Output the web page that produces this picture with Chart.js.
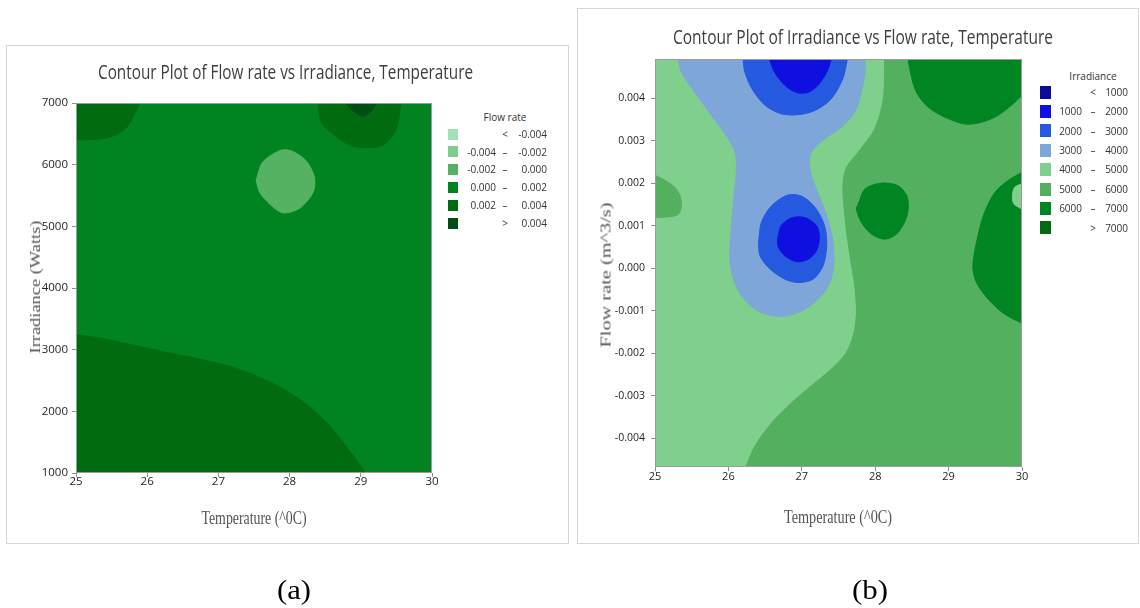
<!DOCTYPE html>
<html><head><meta charset="utf-8">
<title>Contour plots</title>
<script src="https://cdn.jsdelivr.net/npm/chart.js@4.4.1/dist/chart.umd.min.js"></script>
<style>
html,body{margin:0;padding:0;background:#fff}
body{position:relative;width:1140px;height:608px;overflow:hidden}
.box{position:absolute;border:1px solid #d6d6d6;box-sizing:border-box}
canvas{position:absolute;display:block}
.sw{position:absolute}
.lt{position:absolute;white-space:nowrap;line-height:1;font-family:'Open Sans',sans-serif;font-size:10px;color:#333}
</style></head>
<body>
<div class="box" style="left:6px;top:45px;width:563px;height:499px"></div>
<div class="box" style="left:577px;top:8px;width:562px;height:536px"></div>
<canvas id="chartA" width="445" height="496" style="left:0px;top:46px;width:445px;height:496px"></canvas>
<canvas id="chartB" width="460" height="534" style="left:577px;top:9px;width:460px;height:534px"></canvas>
<script>
// ---------------- shared axis ----------------
const tempRange = [25, 30];
const tempTicks = [25, 26, 27, 28, 29, 30];
const tempTickLabels = ['25', '26', '27', '28', '29', '30'];

// ---------------- (a) Flow rate vs Irradiance, Temperature ----------------
const aIrrRange = [1000, 7000];
const aIrrTicks = [1000, 2000, 3000, 4000, 5000, 6000, 7000];
const aIrrTickLabels = ['1000', '2000', '3000', '4000', '5000', '6000', '7000'];
const flowLevels = [-0.004, -0.002, 0.000, 0.002, 0.004];
const flowColors = ['#a4e0b6', '#7ecd8d', '#55b263', '#008422', '#006b0f', '#004e14'];

// contour band boundaries, [temperature, irradiance]
const aBase = [[24.9, 900], [30.1, 900], [30.1, 7100], [24.9, 7100]];                       // 0.000 – 0.002
const aBottom = [[29.12, 900], [24.9, 900], [24.9, 3243], [25, 3243], [25.33, 3189], [25.80, 3076], [26.27, 2957],
  [26.73, 2849], [27.20, 2714], [27.58, 2551], [27.91, 2362], [28.23, 2119], [28.56, 1768], [28.84, 1362], [29.07, 1000]]; // 0.002 – 0.004
const aTopLeft = [[25.93, 7100], [24.9, 7100], [24.9, 6400], [25, 6400], [25.33, 6416], [25.56, 6481], [25.73, 6632], [25.89, 6984]]; // 0.002 – 0.004
const aTopRight = [[29.57, 7100], [28.39, 7100], [28.40, 7000], [28.445, 6686], [28.61, 6497], [28.89, 6297], [29.26, 6292],
  [29.43, 6443], [29.52, 6659], [29.56, 7000]];                                               // 0.002 – 0.004
const aTopCore = [[29.24, 7100], [28.78, 7100], [28.79, 7000], [28.89, 6876], [29.03, 6784], [29.13, 6849], [29.23, 7000]]; // > 0.004
const aBlob = [[27.53, 5741], [27.62, 6038], [27.86, 6227], [28.02, 6227], [28.23, 6065], [28.35, 5795], [28.33, 5551],
  [28.16, 5308], [28.00, 5227], [27.88, 5227], [27.72, 5362], [27.58, 5551], [27.53, 5741]];  // -0.002 – 0.000
// [boundary, colour band, tension]
const aLayers = [[aBase, 3, 0], [aBottom, 4], [aTopLeft, 4], [aTopRight, 4], [aTopCore, 5], [aBlob, 2]];

// ---------------- (b) Irradiance vs Flow rate, Temperature ----------------
const bFlowRange = [-0.00468, 0.00492];
const bFlowTicks = [-0.004, -0.003, -0.002, -0.001, 0.000, 0.001, 0.002, 0.003, 0.004];
const bFlowTickLabels = ['-0.004', '-0.003', '-0.002', '-0.001', '0.000', '0.001', '0.002', '0.003', '0.004'];
const irrLevels = [1000, 2000, 3000, 4000, 5000, 6000, 7000];
const irrColors = ['#0b0b96', '#0f10e0', '#2459e0', '#7ea6d9', '#7fcf8d', '#53b05f', '#008523', '#006b0f'];

// contour band boundaries, [temperature, flow rate]
const bBase = [[24.9, -0.0049], [30.1, -0.0049], [30.1, 0.0051], [24.9, 0.0051]];          // 4000 – 5000
const bRight = [[30.1, 0.0051], [28.13, 0.0051], [28.13, 0.00491], [28.11, 0.00398], [27.995, 0.00328], [27.77, 0.00273],
  [27.61, 0.00237], [27.56, 0.00194], [27.59, 0.001155], [27.65, 0.00037], [27.72, -0.00042], [27.745, -0.001045],
  [27.70, -0.001595], [27.59, -0.00203], [27.40, -0.00238], [27.13, -0.00277], [26.86, -0.00317], [26.59, -0.00364],
  [26.36, -0.00419], [26.23, -0.0047], [26.16, -0.0049], [30.1, -0.0049]];                   // 5000 – 6000
const bLeftEdge = [[24.9, 0.00119], [24.9, 0.00218], [25, 0.00218], [25.14, 0.00206], [25.27, 0.0019], [25.34, 0.0017],
  [25.36, 0.00147], [25.32, 0.00127], [25.2, 0.00121], [25, 0.00119]];                        // 5000 – 6000
const bTopRight = [[30.1, 0.0051], [28.45, 0.0051], [28.45, 0.00491], [28.49, 0.00453], [28.56, 0.00414], [28.72, 0.00379],
  [28.95, 0.00355], [29.22, 0.00339], [29.45, 0.00343], [29.67, 0.00359], [29.855, 0.00383], [30, 0.00406], [30.1, 0.0042]]; // 6000 – 7000
const bMidBlob = [[27.77, 0.00151], [27.86, 0.00186], [28.085, 0.002], [28.31, 0.00194], [28.43, 0.001705], [28.45, 0.00139],
  [28.40, 0.00108], [28.29, 0.0008], [28.13, 0.00068], [27.95, 0.0008], [27.81, 0.00108], [27.745, 0.00139], [27.77, 0.00151]]; // 6000 – 7000
const bRightBlob = [[30.1, -0.0014], [30.1, 0.00235], [30, 0.002255], [29.81, 0.00206], [29.63, 0.00178], [29.49, 0.00131],
  [29.40, 0.00076], [29.33, 0.000055], [29.38, -0.00034], [29.54, -0.00073], [29.76, -0.00108], [30, -0.0013]]; // 6000 – 7000
const bNotch = [[30.1, 0.00138], [30.1, 0.00199], [30, 0.00198], [29.90, 0.0019], [29.87, 0.001705], [29.89, 0.00151], [30, 0.00139]]; // 4000 – 5000
const bHourglass = [[27.86, 0.0051], [25.32, 0.0051], [25.32, 0.00491], [25.36, 0.00461], [25.54, 0.00414], [25.77, 0.00359],
  [26.00, 0.00304], [26.09, 0.00273], [26.11, 0.00233], [26.07, 0.00155], [26.03, 0.00076], [26.02, 0.00021], [26.07, -0.00026],
  [26.18, -0.00065], [26.36, -0.00097], [26.59, -0.00112], [26.81, -0.00112], [27.04, -0.00097], [27.22, -0.00073],
  [27.36, -0.00042], [27.43, -0.00002], [27.43, 0.00053], [27.38, 0.001], [27.29, 0.00147], [27.18, 0.00194], [27.11, 0.00233],
  [27.11, 0.00265], [27.18, 0.00284], [27.31, 0.00304], [27.54, 0.00332], [27.72, 0.00367], [27.81, 0.00414], [27.86, 0.00461],
  [27.86, 0.00491]];                                                                          // 3000 – 4000
const bBlueTop = [[27.62, 0.0051], [26.20, 0.0051], [26.20, 0.00491], [26.225, 0.00461], [26.32, 0.00422], [26.50, 0.00383],
  [26.72, 0.00363], [26.95, 0.00361], [27.18, 0.00371], [27.40, 0.00398], [27.56, 0.00446], [27.62, 0.00491]]; // 2000 – 3000
const bBlueLow = [[26.41, 0.000605], [26.45, 0.00108], [26.59, 0.00147], [26.81, 0.00172], [27.00, 0.00169], [27.18, 0.00143],
  [27.31, 0.001], [27.34, 0.00053], [27.29, 0.000055], [27.155, -0.00026], [26.95, -0.00034], [26.77, -0.00026],
  [26.565, -0.00002], [26.43, 0.00029], [26.41, 0.000605]];                                  // 2000 – 3000
const bNavyTop = [[27.40, 0.0051], [26.565, 0.0051], [26.565, 0.00491], [26.63, 0.00461], [26.77, 0.0043], [26.93, 0.00413],
  [27.09, 0.00414], [27.22, 0.0043], [27.34, 0.00461], [27.40, 0.00491]];                     // 1000 – 2000
const bNavyLow = [[26.67, 0.00068], [26.72, 0.001], [26.86, 0.00118], [27.04, 0.00119], [27.20, 0.001], [27.24, 0.00072],
  [27.20, 0.00041], [27.09, 0.00021], [26.93, 0.00015], [26.77, 0.00029], [26.68, 0.00049], [26.67, 0.00068]]; // 1000 – 2000
const bLayers = [[bBase, 4, 0], [bRight, 5], [bLeftEdge, 5], [bTopRight, 6], [bMidBlob, 6], [bRightBlob, 6], [bNotch, 4],
  [bHourglass, 3], [bBlueTop, 2], [bBlueLow, 2], [bNavyTop, 1], [bNavyLow, 1]];

// ---------------- helpers ----------------
function unsortX(pts) {
  for (let i = 1; i < pts.length; i++) if (pts[i][0] < pts[i - 1][0]) return pts;
  return [pts[pts.length - 1]].concat(pts.slice(0, -1));
}
function toDatasets(layers, colors) {
  const n = layers.length;
  return layers.map(([pts, band, tension], i) => ({
    data: unsortX(pts).map(([x, y]) => ({x, y})),
    backgroundColor: colors[band],
    borderColor: colors[band],
    borderWidth: 1,
    fill: 'shape',
    tension: tension === undefined ? 0.3 : tension,
    pointRadius: 0,
    order: n - i
  }));
}
const tickFont = (size) => ({family: "'Open Sans', sans-serif", size, lineHeight: 1});
function xScale(height, fontSize, pad) {
  return {
    type: 'linear', min: tempRange[0], max: tempRange[1],
    afterFit: s => { s.height = height; },
    afterBuildTicks: s => { s.ticks = tempTicks.map(v => ({value: v})); },
    ticks: {autoSkip: false, maxRotation: 0, padding: pad, color: '#1f1f1f', font: tickFont(fontSize),
      callback: (v, i) => tempTickLabels[i]},
    grid: {drawOnChartArea: false, drawTicks: true, tickLength: 4, color: '#8f8f8f'},
    border: {display: false}
  };
}
function yScale(width, range, ticks, labels, fontSize, pad) {
  return {
    type: 'linear', min: range[0], max: range[1],
    afterFit: s => { s.width = width; },
    afterBuildTicks: s => { s.ticks = ticks.map(v => ({value: v})); },
    ticks: {autoSkip: false, padding: pad, color: '#1f1f1f', font: tickFont(fontSize),
      callback: (v, i) => labels[i]},
    grid: {drawOnChartArea: false, drawTicks: true, tickLength: 4, color: '#8f8f8f'},
    border: {display: false}
  };
}
const framePlugin = {
  id: 'plotFrame',
  afterDatasetsDraw(chart) {
    const {ctx, chartArea: a} = chart;
    ctx.save();
    ctx.strokeStyle = '#9b9b9b';
    ctx.lineWidth = 1;
    ctx.strokeRect(Math.round(a.left) + 0.5, Math.round(a.top) + 0.5,
      Math.round(a.right - a.left) - 1, Math.round(a.bottom - a.top) - 1);
    ctx.restore();
  }
};
function makeChart(id, layers, colors, pad, xs, ys) {
  return new Chart(document.getElementById(id), {
    type: 'line',
    data: {datasets: toDatasets(layers, colors)},
    options: {
      responsive: false, animation: false, events: [],
      layout: {padding: pad},
      plugins: {legend: {display: false}, tooltip: {enabled: false}, title: {display: false}},
      elements: {point: {radius: 0, hoverRadius: 0}, line: {capBezierPoints: false, cubicInterpolationMode: 'default'}},
      scales: {x: xs, y: ys}
    },
    plugins: [framePlugin]
  });
}

makeChart('chartA', aLayers, flowColors, {left: 0, top: 57, right: 13, bottom: 0},
  xScale(69, 11.5, -1), yScale(76, aIrrRange, aIrrTicks, aIrrTickLabels, 11.5, 4));
makeChart('chartB', bLayers, irrColors, {left: 0, top: 50, right: 15, bottom: 0},
  xScale(76, 11, 0), yScale(78, bFlowRange, bFlowTicks, bFlowTickLabels, 10.5, 6));

// ---------------- text ----------------
function label(text, cx, cy, o) {
  const el = document.createElement('div');
  el.textContent = text;
  el.style.cssText = 'position:absolute;left:0;top:0;white-space:nowrap;line-height:1;transform-origin:0 0;' +
    'font-family:' + o.family + ';font-size:' + o.size + 'px;color:' + o.color + ';';
  document.body.appendChild(el);
  const w = el.getBoundingClientRect().width;
  const sx = o.width ? o.width / w : 1;
  const sy = o.thick || 1;
  const rot = o.rot ? 'rotate(' + o.rot + 'deg) ' : '';
  el.style.transform = 'translate(' + cx + 'px,' + cy + 'px) ' + rot + 'scale(' + sx + ',' + sy + ') translate(-50%,-50%)';
  return el;
}
const sans = "'Open Sans', sans-serif", serif = "'Liberation Serif', 'Times New Roman', serif";
label('Contour Plot of Flow rate vs Irradiance, Temperature', 285.5, 72, {family: sans, size: 20, color: '#3d3d3d', width: 375});
label('Contour Plot of Irradiance vs Flow rate, Temperature', 863, 37, {family: sans, size: 20, color: '#3d3d3d', width: 380});
label('Temperature (^0C)', 254, 517, {family: serif, size: 19, color: '#555', width: 105});
label('Temperature (^0C)', 838, 516, {family: serif, size: 19, color: '#555', width: 108});
label('Irradiance (Watts)', 34.5, 287, {family: serif, size: 18, color: '#555', width: 133, thick: 0.85, rot: -90});
label('Flow rate (m^3/s)', 605, 275, {family: serif, size: 18, color: '#555', width: 145, thick: 0.85, rot: -90});
label('(a)', 294, 590, {family: serif, size: 28, color: '#000', width: 34});
label('(b)', 870, 590, {family: serif, size: 28, color: '#000', width: 36});

// ---------------- legends ----------------
function legendRows(levels, fmt) {
  const rows = [['', '<', fmt(levels[0])]];
  for (let i = 1; i < levels.length; i++) rows.push([fmt(levels[i - 1]), '\u2013', fmt(levels[i])]);
  rows.push(['', '>', fmt(levels[levels.length - 1])]);
  return rows;
}
function legend(title, rows, colors, g) {
  label(title, g.symC, g.titleY, {family: sans, size: 10, color: '#333'});
  rows.forEach((r, i) => {
    const cy = g.y0 + g.dy * i;
    const sw = document.createElement('div');
    sw.className = 'sw';
    sw.style.cssText = 'left:' + g.swL + 'px;top:' + (cy - g.swH / 2) + 'px;width:' + g.swW + 'px;height:' + g.swH + 'px;background:' + colors[i];
    document.body.appendChild(sw);
    const mk = (txt, left, width, align) => {
      const t = document.createElement('div');
      t.className = 'lt';
      t.textContent = txt;
      t.style.left = left + 'px'; t.style.width = width + 'px'; t.style.textAlign = align;
      t.style.top = (cy - 5.3) + 'px';
      document.body.appendChild(t);
    };
    mk(r[0], g.c1R - 60, 60, 'right');
    mk(r[1], g.symC - 10, 20, 'center');
    mk(r[2], g.c3R - 60, 60, 'right');
  });
}
legend('Flow rate', legendRows(flowLevels, v => v.toFixed(3)), flowColors,
  {titleY: 117, y0: 134, dy: 17.8, swL: 448, swW: 10, swH: 11, c1R: 496, symC: 505, c3R: 547});
legend('Irradiance', legendRows(irrLevels, v => String(v)), irrColors,
  {titleY: 76, y0: 92, dy: 19.4, swL: 1040, swW: 11, swH: 13, c1R: 1082, symC: 1093, c3R: 1128});
</script>
</body></html>
